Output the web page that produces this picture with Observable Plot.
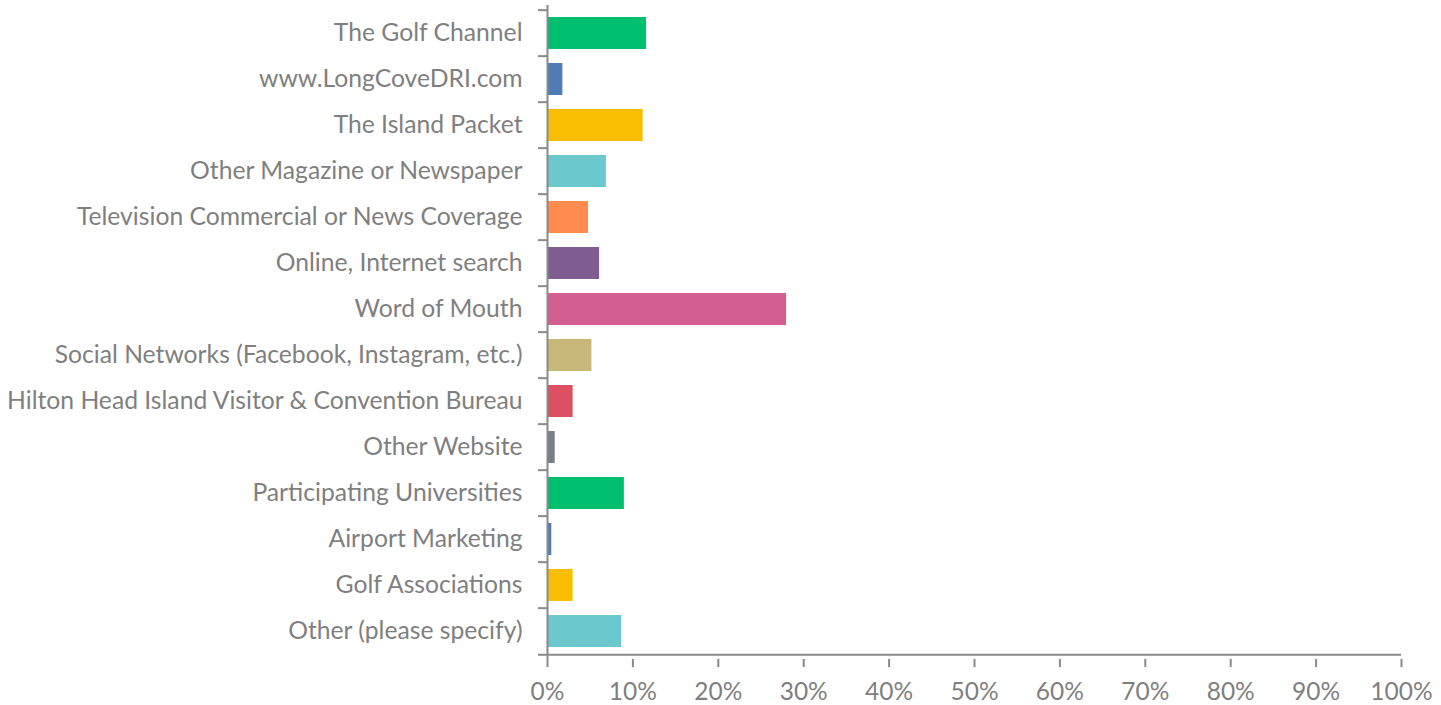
<!DOCTYPE html>
<html>
<head>
<meta charset="utf-8">
<script src="https://cdn.jsdelivr.net/npm/d3@7"></script>
<script src="https://cdn.jsdelivr.net/npm/@observablehq/plot@0.6"></script>
<style>
  html, body { margin: 0; padding: 0; background: #fff; }
  #chart svg { display: block; }
</style>
</head>
<body>
<div id="chart"></div>
<script>
const categories = [
  "The Golf Channel",
  "www.LongCoveDRI.com",
  "The Island Packet",
  "Other Magazine or Newspaper",
  "Television Commercial or News Coverage",
  "Online, Internet search",
  "Word of Mouth",
  "Social Networks (Facebook, Instagram, etc.)",
  "Hilton Head Island Visitor & Convention Bureau",
  "Other Website",
  "Participating Universities",
  "Airport Marketing",
  "Golf Associations",
  "Other (please specify)"
];
const values = [0.116, 0.018, 0.112, 0.069, 0.048, 0.061, 0.280, 0.052, 0.030, 0.009, 0.090, 0.005, 0.030, 0.087];
const colors = ["#00BF6F", "#507CB6", "#F9BE00", "#6BC8CD", "#FF8B4F", "#7F5D90", "#D25F90", "#C7B879", "#DC5061", "#768086", "#00BF6F", "#507CB6", "#F9BE00", "#6BC8CD"];
const xTicks = [0, 0.1, 0.2, 0.3, 0.4, 0.5, 0.6, 0.7, 0.8, 0.9, 1.0];

const data = categories.map((c, i) => ({category: c, value: values[i], color: colors[i]}));

const W = 1441, H = 705;
const mTop = 5, mBottom = 46, mLeft = 547, mRight = 40;
const step = (H - mTop - mBottom) / categories.length;
const textColor = "#7f7f7f";
const lineColor = "#8a8a8a";
const tickLen = 9 / (W - mLeft - mRight); // tick length in x data units

const chart = Plot.plot({
  width: W,
  height: H,
  marginTop: mTop,
  marginBottom: mBottom,
  marginLeft: mLeft,
  marginRight: mRight,
  style: {fontFamily: "Lato, 'Open Sans', sans-serif", color: textColor, background: "#fff"},
  x: {domain: [0, 1], label: null},
  y: {domain: categories, paddingInner: 0.315, paddingOuter: 0.1575, label: null},
  color: {type: "identity"},
  marks: [
    Plot.barX(data, {x: "value", y: "category", fill: "color"}),
    // vertical axis line
    Plot.ruleX([0], {stroke: lineColor, strokeWidth: 2}),
    // band boundary ticks on y axis
    Plot.ruleY(categories, {y: d => d, dy: -step / 2, x1: -tickLen, x2: 0, stroke: lineColor, strokeWidth: 2}),
    Plot.ruleY([categories[categories.length - 1]], {y: d => d, dy: step / 2, x1: -tickLen, x2: 1, stroke: lineColor, strokeWidth: 2}),
    Plot.axisY({tickSize: 0, tickPadding: 25, fontSize: 24.7, fill: textColor, label: null}),
    Plot.axisX({ticks: xTicks, tickFormat: d3.format(".0%"), tickSize: 8, tickPadding: 15, fontSize: 24.5, stroke: lineColor, strokeWidth: 2, fill: textColor, label: null})
  ]
});
document.getElementById("chart").appendChild(chart);
</script>
</body>
</html>
